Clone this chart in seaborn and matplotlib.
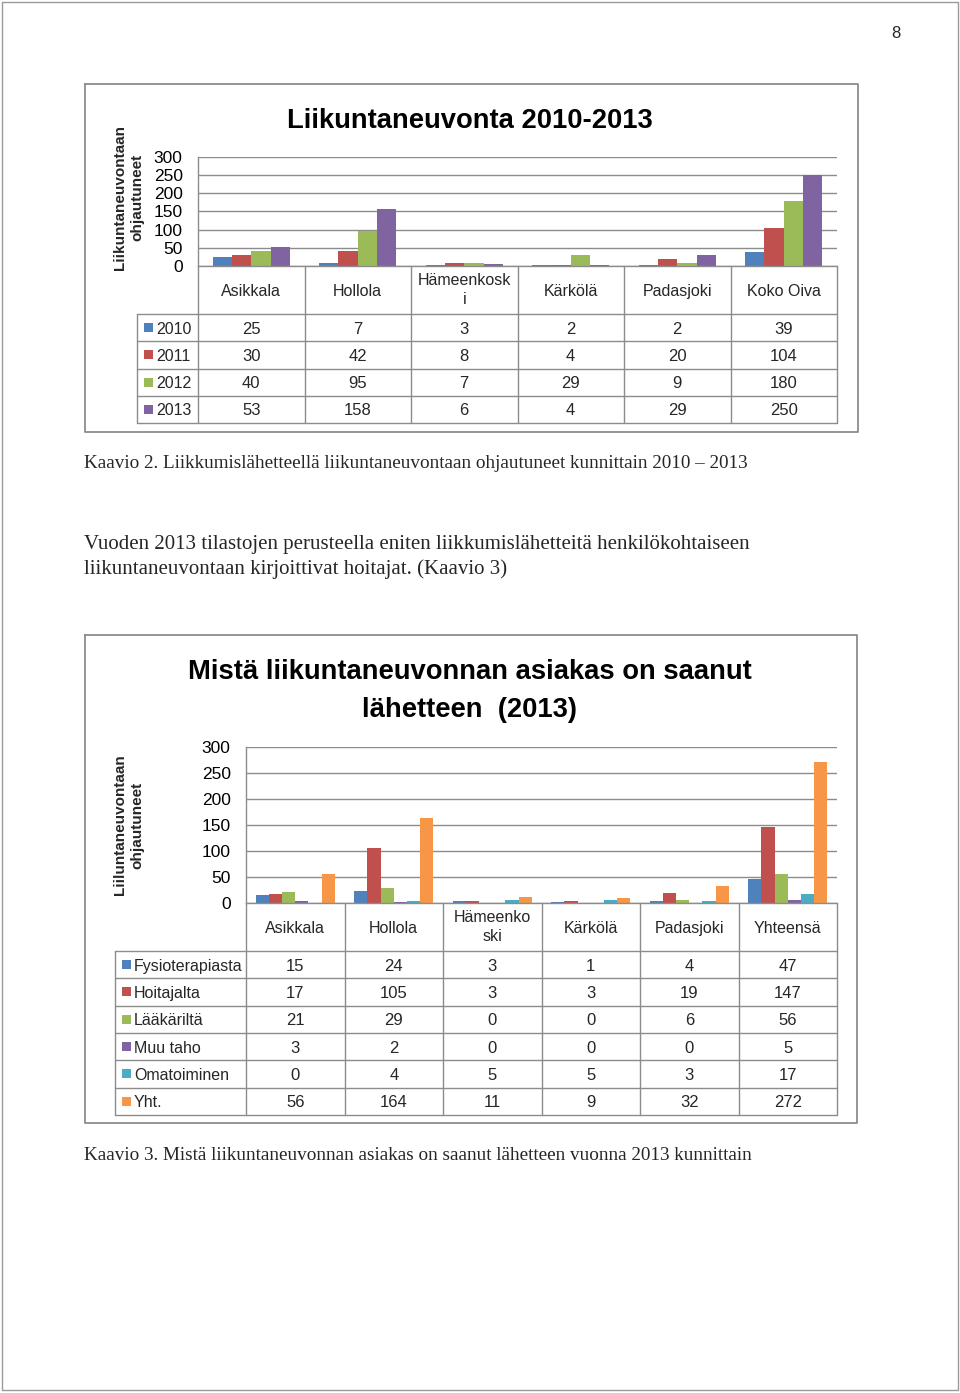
import matplotlib
matplotlib.use('Agg')
from matplotlib import pyplot as plt
import numpy as np
import pandas as pd
import seaborn as sns

# --------------
# Kaavio 2 data
kunnat1 = ['Asikkala', 'Hollola', 'Hämeenkosk\ni', 'Kärkölä', 'Padasjoki', 'Koko Oiva']
vuodet = ['2010', '2011', '2012', '2013']
v2010 = [25, 7, 3, 2, 2, 39]
v2011 = [30, 42, 8, 4, 20, 104]
v2012 = [40, 95, 7, 29, 9, 180]
v2013 = [53, 158, 6, 4, 29, 250]

# Kaavio 3 data
kunnat2 = ['Asikkala', 'Hollola', 'Hämeenko\nski', 'Kärkölä', 'Padasjoki', 'Yhteensä']
lahteet = ['Fysioterapiasta', 'Hoitajalta', 'Lääkäriltä', 'Muu taho', 'Omatoiminen', 'Yht.']
fysio = [15, 24, 3, 1, 4, 47]
hoitaja = [17, 105, 3, 3, 19, 147]
laakari = [21, 29, 0, 0, 6, 56]
muu = [3, 2, 0, 0, 0, 5]
oma = [0, 4, 5, 5, 3, 17]
yht = [56, 164, 11, 9, 32, 272]

y_ticks = [0, 50, 100, 150, 200, 250, 300]
colors = ['#4F81BD', '#C0504D', '#9BBB59', '#8064A2', '#4BACC6', '#F79646']

W, H = 960, 1393
LINE = '#8c8c8c'
SANS = ['Liberation Sans', 'DejaVu Sans']
SERIF = ['Liberation Serif', 'DejaVu Serif']

sns.set_theme(style='white')
plt.rcParams['font.family'] = SANS

fig = plt.figure(figsize=(W / 100, H / 100), dpi=100)
fig.patch.set_facecolor('white')

# page overlay in pixel coordinates
page = fig.add_axes([0, 0, 1, 1])
page.set_xlim(0, W)
page.set_ylim(H, 0)
page.axis('off')
page.patch.set_visible(False)


def chart(cats, names, series, ylabel, title, frame, px0, px1, ptop, pbot,
          cat_bot, row_h, leg_x0, width):
    # frame around the chart
    fx0, fy0, fx1, fy1 = frame
    page.plot([fx0, fx1, fx1, fx0, fx0], [fy0, fy0, fy1, fy1, fy0], color=LINE, lw=1.3)

    df = pd.DataFrame(dict(zip(names, series)), index=cats)
    df = df.reset_index().melt(id_vars='index', var_name='sarja', value_name='arvo')

    ax = fig.add_axes([px0 / W, 1 - pbot / H, (px1 - px0) / W, (pbot - ptop) / H])
    sns.barplot(data=df, x='index', y='arvo', hue='sarja', palette=colors[:len(names)],
                width=width, saturation=1, errorbar=None, legend=False, linewidth=0, ax=ax)
    ax.set_ylim(0, 300)
    ax.set_xlim(-0.5, len(cats) - 0.5)
    ax.set_yticks(y_ticks)
    ax.set_xticks([])
    ax.set_xlabel('')
    ax.set_ylabel('')
    ax.yaxis.grid(True, color=LINE, lw=1)
    ax.set_axisbelow(True)
    ax.patch.set_visible(False)
    for s in ['top', 'right']:
        ax.spines[s].set_visible(False)
    for s in ['left', 'bottom']:
        ax.spines[s].set_color(LINE)
        ax.spines[s].set_linewidth(1)
    ax.tick_params(axis='y', length=0, pad=11, labelsize=12.5, labelcolor='black')

    # title
    for line in title:
        page.text(470, line[1], line[0], ha='center', va='center_baseline', fontsize=19.7,
                  fontweight='bold', color='black')

    # y label
    page.text(129, ylabel[1], ylabel[0], rotation=90, ha='center', va='center',
              fontsize=11, fontweight='bold', linespacing=1.3, multialignment='center')

    # data table
    n = len(cats)
    col_w = (px1 - px0) / n
    tab_bot = cat_bot + row_h * len(names)
    for j in range(n + 1):
        x = px0 + j * col_w
        page.plot([x, x], [pbot, tab_bot], color=LINE, lw=1)
    page.plot([leg_x0, leg_x0], [cat_bot, tab_bot], color=LINE, lw=1)
    for i in range(len(names) + 1):
        y = cat_bot + i * row_h
        page.plot([leg_x0, px1], [y, y], color=LINE, lw=1)
    for j, c in enumerate(cats):
        va = 'center' if '\n' in c else 'center_baseline'
        page.text(px0 + (j + 0.5) * col_w, (pbot + cat_bot) / 2, c, ha='center',
                  va=va, fontsize=11.5, linespacing=1.35, multialignment='center')
    for i, (nm, vals) in enumerate(zip(names, series)):
        yc = cat_bot + (i + 0.5) * row_h
        page.add_patch(plt.Rectangle((leg_x0 + 7, yc - 4.5), 9, 9, color=colors[i], lw=0))
        page.text(leg_x0 + 19, yc, nm, ha='left', va='center_baseline', fontsize=11.5)
        for j, v in enumerate(vals):
            page.text(px0 + (j + 0.5) * col_w, yc, str(v), ha='center',
                      va='center_baseline', fontsize=12)
    return ax


chart(kunnat1, vuodet, [v2010, v2011, v2012, v2013],
      ('Liikuntaneuvontaan\nohjautuneet', 197),
      [('Liikuntaneuvonta 2010-2013', 118)],
      (85, 84, 858, 432), 198, 837, 157, 266, 314, 27.25, 137, 4 / 5.5)

chart(kunnat2, lahteet, [fysio, hoitaja, laakari, muu, oma, yht],
      ('Liiluntaneuvontaan\nohjautuneet', 825),
      [('Mistä liikuntaneuvonnan asiakas on saanut', 669), ('lähetteen  (2013)', 707)],
      (85, 635, 857, 1123), 246, 837, 747, 903, 951, 27.33, 115, 6 / 7.5)

# page text
page.plot([2, W - 2, W - 2, 2, 2], [2, 2, H - 3, H - 3, 2], color='#9a9a9a', lw=1)
page.text(896, 33, '8', ha='center', va='center', fontsize=12)
page.text(84, 462, 'Kaavio 2. Liikkumislähetteellä liikuntaneuvontaan ohjautuneet kunnittain 2010 – 2013',
          ha='left', va='center_baseline', fontsize=13.8, family=SERIF)
page.text(84, 542, 'Vuoden 2013 tilastojen perusteella eniten liikkumislähetteitä henkilökohtaiseen',
          ha='left', va='center_baseline', fontsize=15, family=SERIF)
page.text(84, 567, 'liikuntaneuvontaan kirjoittivat hoitajat. (Kaavio 3)',
          ha='left', va='center_baseline', fontsize=15, family=SERIF)
page.text(84, 1153, 'Kaavio 3. Mistä liikuntaneuvonnan asiakas on saanut lähetteen vuonna 2013 kunnittain',
          ha='left', va='center_baseline', fontsize=13.8, family=SERIF)

fig.savefig('out.png', dpi=100)
